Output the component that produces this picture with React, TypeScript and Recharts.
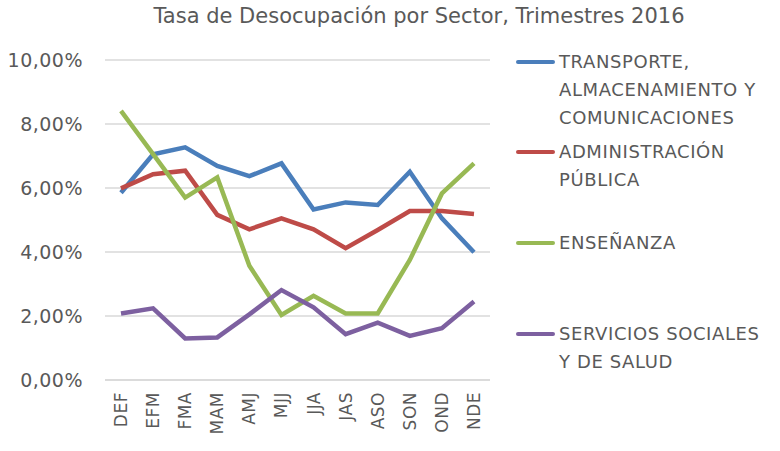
import { LineChart, Line, XAxis, YAxis, CartesianGrid, Legend } from "recharts";

const categories = ["DEF", "EFM", "FMA", "MAM", "AMJ", "MJJ", "JJA", "JAS", "ASO", "SON", "OND", "NDE"];

const transporte = [5.85, 7.05, 7.27, 6.69, 6.37, 6.77, 5.33, 5.55, 5.47, 6.51, 5.05, 3.99];
const administracion = [5.99, 6.43, 6.54, 5.16, 4.71, 5.05, 4.71, 4.12, 4.69, 5.28, 5.28, 5.19];
const ensenanza = [8.41, 7.06, 5.7, 6.33, 3.57, 2.03, 2.63, 2.08, 2.08, 3.75, 5.83, 6.77];
const servicios = [2.08, 2.24, 1.3, 1.33, 2.05, 2.81, 2.27, 1.43, 1.79, 1.38, 1.62, 2.45];

const yTicks = [0, 2, 4, 6, 8, 10];

const series = [
  { key: "transporte", lines: ["TRANSPORTE,", "ALMACENAMIENTO Y", "COMUNICACIONES"], color: "#4A7EBB" },
  { key: "administracion", lines: ["ADMINISTRACIÓN", "PÚBLICA"], color: "#BE4B48" },
  { key: "ensenanza", lines: ["ENSEÑANZA"], color: "#98B954" },
  { key: "servicios", lines: ["SERVICIOS SOCIALES", "Y DE SALUD"], color: "#7D60A0" },
];

const data = categories.map((c, i) => ({
  name: c,
  transporte: transporte[i],
  administracion: administracion[i],
  ensenanza: ensenanza[i],
  servicios: servicios[i],
}));

const FONT = "'DejaVu Sans', sans-serif";
const TEXT = "#595959";

// legend first-line centres, relative to the legend box
const legendTops = [17, 107, 198, 289];

function XTick({ x, y, payload }: any) {
  return (
    <text
      x={x}
      y={y}
      transform={`rotate(-90, ${x}, ${y})`}
      textAnchor="end"
      dominantBaseline="central"
      fill={TEXT}
      fontSize={17}
      fontFamily={FONT}
      letterSpacing={0.5}
    >
      {payload.value}
    </text>
  );
}

function LegendContent() {
  return (
    <div style={{ position: "relative", width: 275, height: 340, fontFamily: FONT, color: TEXT, fontSize: 18, letterSpacing: 0.6 }}>
      {series.map((s, i) => (
        <div key={s.key} style={{ position: "absolute", left: 0, top: legendTops[i] - 14 }}>
          <div
            style={{
              position: "absolute",
              left: 11,
              top: 12,
              width: 39,
              height: 4,
              borderRadius: 2,
              background: s.color,
            }}
          />
          <div style={{ marginLeft: 54, lineHeight: "28px", whiteSpace: "nowrap" }}>
            {s.lines.map((l) => (
              <div key={l}>{l}</div>
            ))}
          </div>
        </div>
      ))}
    </div>
  );
}

export default function App() {
  return (
    <div style={{ position: "absolute", left: 0, top: 0, width: 780, height: 451, background: "#fff" }}>
      <div
        style={{
          position: "absolute",
          left: 0,
          top: 4,
          width: 838,
          textAlign: "center",
          fontFamily: FONT,
          fontSize: 21,
          color: TEXT,
          whiteSpace: "nowrap",
        }}
      >
        Tasa de Desocupación por Sector, Trimestres 2016
      </div>
      <LineChart width={780} height={451} data={data} margin={{ top: 60, right: 290, left: 0, bottom: 0 }}>
        <CartesianGrid vertical={false} stroke="#D9D9D9" strokeWidth={1.5} />
        <XAxis
          dataKey="name"
          height={71}
          interval={0}
          padding={{ left: 16, right: 16 }}
          tickLine={false}
          axisLine={{ stroke: "#D9D9D9", strokeWidth: 1.5 }}
          tick={<XTick />}
          tickMargin={6}
        />
        <YAxis
          width={105}
          domain={[0, 10]}
          ticks={yTicks}
          axisLine={false}
          tickLine={false}
          tickSize={0}
          tickMargin={22}
          tickFormatter={(v: number) => v.toFixed(2).replace(".", ",") + "%"}
          tick={{ fill: TEXT, fontSize: 19, fontFamily: FONT, letterSpacing: 0.5 }}
        />
        <Legend
          layout="vertical"
          align="center"
          verticalAlign="middle"
          content={<LegendContent />}
          wrapperStyle={{ position: "absolute", left: 505, top: 45, width: 275, height: 340 }}
        />
        {series.map((s) => (
          <Line
            key={s.key}
            type="linear"
            dataKey={s.key}
            stroke={s.color}
            strokeWidth={4.5}
            dot={false}
            activeDot={false}
            isAnimationActive={false}
          />
        ))}
      </LineChart>
    </div>
  );
}
